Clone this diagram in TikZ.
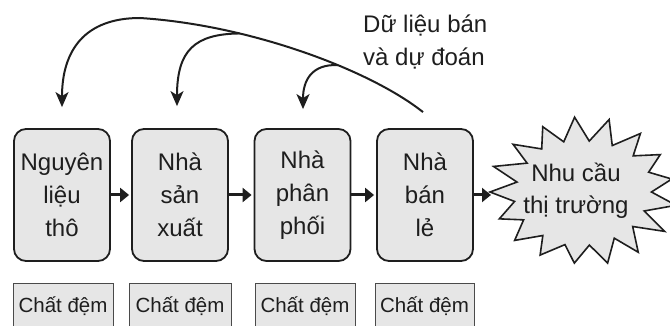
\documentclass[tikz,border=0pt]{standalone}
\usepackage{fontspec}
\setmainfont{Liberation Sans}
\usetikzlibrary{arrows.meta,calc}

\definecolor{ink}{HTML}{1E1E1E}
\definecolor{panel}{HTML}{E6E6E6}
\definecolor{rim}{HTML}{4A4A4A}

\tikzset{
  stage/.style={draw=ink, line width=1.8pt, fill=panel, rounded corners=12pt,
    minimum width=96pt, minimum height=132pt, inner sep=0pt, align=center,
    text=ink, font=\fontsize{24}{33}\selectfont},
  buffer/.style={draw=rim, line width=0.9pt, fill=panel, minimum width=100pt,
    minimum height=46pt, inner sep=0pt, text=ink, font=\fontsize{20.5}{24}\selectfont},
  flow/.style={draw=ink, line width=3pt, -{Triangle[length=9pt,width=14pt]}},
  feedback/.style={draw=ink, line width=2pt, -{Stealth[length=15pt,width=13pt,inset=4pt]}},
  burst/.style={draw=ink, line width=1.6pt, fill=panel, line join=miter},
}

\begin{document}
\begin{tikzpicture}[x=1pt,y=-1pt]
  \useasboundingbox (0,0) rectangle (670,326);
  \clip (0,0) rectangle (670,326);

  % supply chain stages
  \node[stage] (raw)    at (62,195)    {Nguyên\\liệu\\thô};
  \node[stage] (maker)  at (180,195)   {Nhà\\sản\\xuất};
  \node[stage] (distr)  at (302.5,195) {Nhà\\phân\\phối};
  \node[stage] (retail) at (425,195)   {Nhà\\bán\\lẻ};

  % market demand: a starburst of 17 spikes, slightly uneven
  \draw[burst] plot[samples at={0,...,33}]
    ({583 + (mod(\x,2)==0 ? 93 : 68)*(1+0.035*sin(\x*137))*cos(180-\x*360/34)},
     {192 + (mod(\x,2)==0 ? 73 : 53)*(1+0.035*cos(\x*151))*sin(180-\x*360/34)})
    -- cycle;
  \node[align=center, text=ink, inner sep=0pt, font=\fontsize{24}{32}\selectfont]
        (demand) at (576,191) {Nhu cầu\\thị trường};

  % buffers under each stage
  \node[buffer] (b1) at (63,306)    {Chất đệm};
  \node[buffer, minimum width=102pt] (b2) at (180,306) {Chất đệm};
  \node[buffer] (b3) at (305,306)   {Chất đệm};
  \node[buffer, minimum width=99pt] (b4) at (424.5,306) {Chất đệm};

  % forward flow
  \draw[flow, shorten >=2pt] (raw.east) -- (maker.west);
  \draw[flow, shorten >=2pt] (maker.east) -- (distr.west);
  \draw[flow, shorten >=2pt] (distr.east) -- (retail.west);
  \coordinate (demandin) at (491,195);
  \draw[flow] (retail.east) -- (demandin);

  % sales data and forecasts fed back upstream
  \coordinate (fbstart) at ($(retail.north)+(-2,-16)$);
  \coordinate (top)     at (140,18);
  \coordinate (tipraw)  at ($(raw.north)+(0,-21)$);
  \coordinate (tipmkr)  at ($(maker.north)+(-3,-22)$);
  \coordinate (tipdst)  at ($(distr.north)+(0.5,-19)$);
  \path (fbstart) .. controls (370,70) and (250,25) .. (top)
        coordinate[pos=0.38] (j3) coordinate[pos=0.7] (j2);

  \draw[feedback] (fbstart) .. controls (370,70) and (250,25) .. (top)
                  .. controls (85,18) and (62,50) .. (tipraw);
  \draw[feedback] (j2) .. controls (195,34) and (177,50) .. (tipmkr);
  \draw[feedback] (j3) .. controls (312,64) and (303,80) .. (tipdst);

  \node[anchor=west, align=left, text=ink, inner sep=0pt,
        font=\fontsize{24}{33}\selectfont] (label) at (363,42)
        {Dữ liệu bán\\và dự đoán};
\end{tikzpicture}
\end{document}
